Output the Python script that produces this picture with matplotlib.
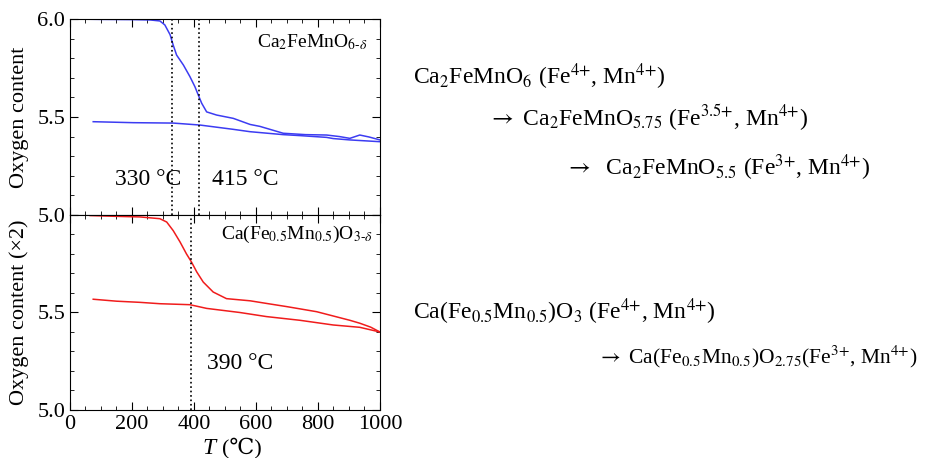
import numpy as np
import matplotlib.pyplot as plt
from matplotlib.ticker import MultipleLocator

plt.rcParams['font.family'] = ['Liberation Serif', 'DejaVu Serif']
plt.rcParams['mathtext.fontset'] = 'stix'

# Ca2FeMnO6-d, heating branch
t_fe_heat = [5, 100, 200, 260, 290, 306, 323, 333, 344, 366, 387, 403, 414, 425, 441, 473,
             527, 581, 613, 688, 760, 828, 870, 903, 935, 965, 1000]
o_fe_heat = [6.0, 5.998, 5.997, 5.995, 5.99, 5.97, 5.92, 5.867, 5.816, 5.765, 5.706, 5.655,
             5.612, 5.57, 5.526, 5.51, 5.493, 5.462, 5.452, 5.417, 5.41, 5.408, 5.40, 5.391,
             5.408, 5.398, 5.383]
# Ca2FeMnO6-d, cooling branch
t_fe_cool = [1000, 935, 903, 849, 828, 742, 688, 581, 527, 419, 333, 204, 75]
o_fe_cool = [5.374, 5.38, 5.383, 5.39, 5.396, 5.405, 5.41, 5.425, 5.437, 5.459, 5.469,
             5.471, 5.476]

# Ca(Fe0.5Mn0.5)O3-d (x2), heating branch
t_cf_heat = [65, 150, 226, 290, 312, 333, 355, 376, 392, 409, 430, 462, 505, 581, 640, 700,
             796, 903, 935, 970, 1000]
o_cf_heat = [5.997, 5.993, 5.99, 5.981, 5.964, 5.92, 5.862, 5.80, 5.759, 5.708, 5.656,
             5.605, 5.571, 5.56, 5.545, 5.53, 5.504, 5.46, 5.445, 5.425, 5.40]
# Ca(Fe0.5Mn0.5)O3-d (x2), cooling branch
t_cf_cool = [1000, 935, 849, 742, 634, 548, 441, 387, 290, 226, 150, 75]
o_cf_cool = [5.40, 5.424, 5.436, 5.46, 5.479, 5.50, 5.521, 5.54, 5.545, 5.552, 5.558, 5.568]

fe_steps = [330, 415]
cf_steps = [390]

fig = plt.figure(figsize=(9.28, 4.58), dpi=100)
ax1 = fig.add_axes([0.0754, 0.5306, 0.334, 0.4279])
ax2 = fig.add_axes([0.0754, 0.1048, 0.334, 0.4258])

blue = '#3c3cf2'
red = '#f01c1c'
ax1.plot(t_fe_heat, o_fe_heat, color=blue, lw=1.1)
ax1.plot(t_fe_cool, o_fe_cool, color=blue, lw=1.1)
ax2.plot(t_cf_heat, o_cf_heat, color=red, lw=1.1)
ax2.plot(t_cf_cool, o_cf_cool, color=red, lw=1.1)

for t in fe_steps:
    ax1.axvline(t, color='black', ls=':', lw=1.2)
for t in cf_steps:
    ax2.axvline(t, color='black', ls=':', lw=1.2)

for ax in (ax1, ax2):
    ax.set_xlim(0, 1000)
    ax.set_ylim(5.0, 6.0)
    ax.xaxis.set_major_locator(MultipleLocator(200))
    ax.xaxis.set_minor_locator(MultipleLocator(50))
    ax.yaxis.set_minor_locator(MultipleLocator(0.1))
    ax.tick_params(which='both', direction='in', top=True, right=True, labelsize=16)
    ax.tick_params(which='major', length=6)
    ax.tick_params(which='minor', length=3)

ax1.set_yticks([5.0, 5.5, 6.0])
ax1.set_yticklabels(['5.0', '5.5', '6.0'])
ax1.tick_params(labelbottom=False)
ax2.set_yticks([5.0, 5.5, 6.0])
ax2.set_yticklabels(['5.0', '5.5', ''])

ax1.set_ylabel('Oxygen content', fontsize=16, labelpad=6)
ax2.set_ylabel('Oxygen content (×2)', fontsize=16, labelpad=6)
ax2.text(0.47, -0.195, 'T', transform=ax2.transAxes, fontsize=17, style='italic',
         ha='right', va='center')
ax2.text(0.49, -0.195, '(℃)', transform=ax2.transAxes, fontsize=16, ha='left', va='center')

ax1.text(960, 5.88, r'Ca$_2$FeMnO$_{6\text{-}\delta}$', fontsize=14, ha='right', va='center')
ax1.text(145, 5.18, '330 °C', fontsize=17, ha='left', va='center')
ax1.text(457, 5.18, '415 °C', fontsize=17, ha='left', va='center')
ax2.text(978, 5.90, r'Ca(Fe$_{0.5}$Mn$_{0.5}$)O$_{3\text{-}\delta}$', fontsize=14, ha='right', va='center')
ax2.text(441, 5.24, '390 °C', fontsize=17, ha='left', va='center')

fs = 17
fig.text(413 / 928, 1 - 77 / 458, r'Ca$_2$FeMnO$_6$ (Fe$^{\text{4+}}$, Mn$^{\text{4+}}$)', fontsize=fs, va='center')
fig.text(488 / 928, 1 - 118 / 458, r'$\rightarrow$ Ca$_2$FeMnO$_{5.75}$ (Fe$^{\text{3.5+}}$, Mn$^{\text{4+}}$)', fontsize=fs, va='center')
fig.text(565 / 928, 1 - 168 / 458, r'$\rightarrow$  Ca$_2$FeMnO$_{5.5}$ (Fe$^{\text{3+}}$, Mn$^{\text{4+}}$)', fontsize=fs, va='center')
fig.text(413 / 928, 1 - 312 / 458, r'Ca(Fe$_{0.5}$Mn$_{0.5}$)O$_3$ (Fe$^{\text{4+}}$, Mn$^{\text{4+}}$)', fontsize=fs, va='center')
fig.text(597 / 928, 1 - 357 / 458, r'$\rightarrow$ Ca(Fe$_{0.5}$Mn$_{0.5}$)O$_{2.75}$(Fe$^{\text{3+}}$, Mn$^{\text{4+}}$)', fontsize=15.5, va='center')

fig.savefig('out.png', dpi=100)
